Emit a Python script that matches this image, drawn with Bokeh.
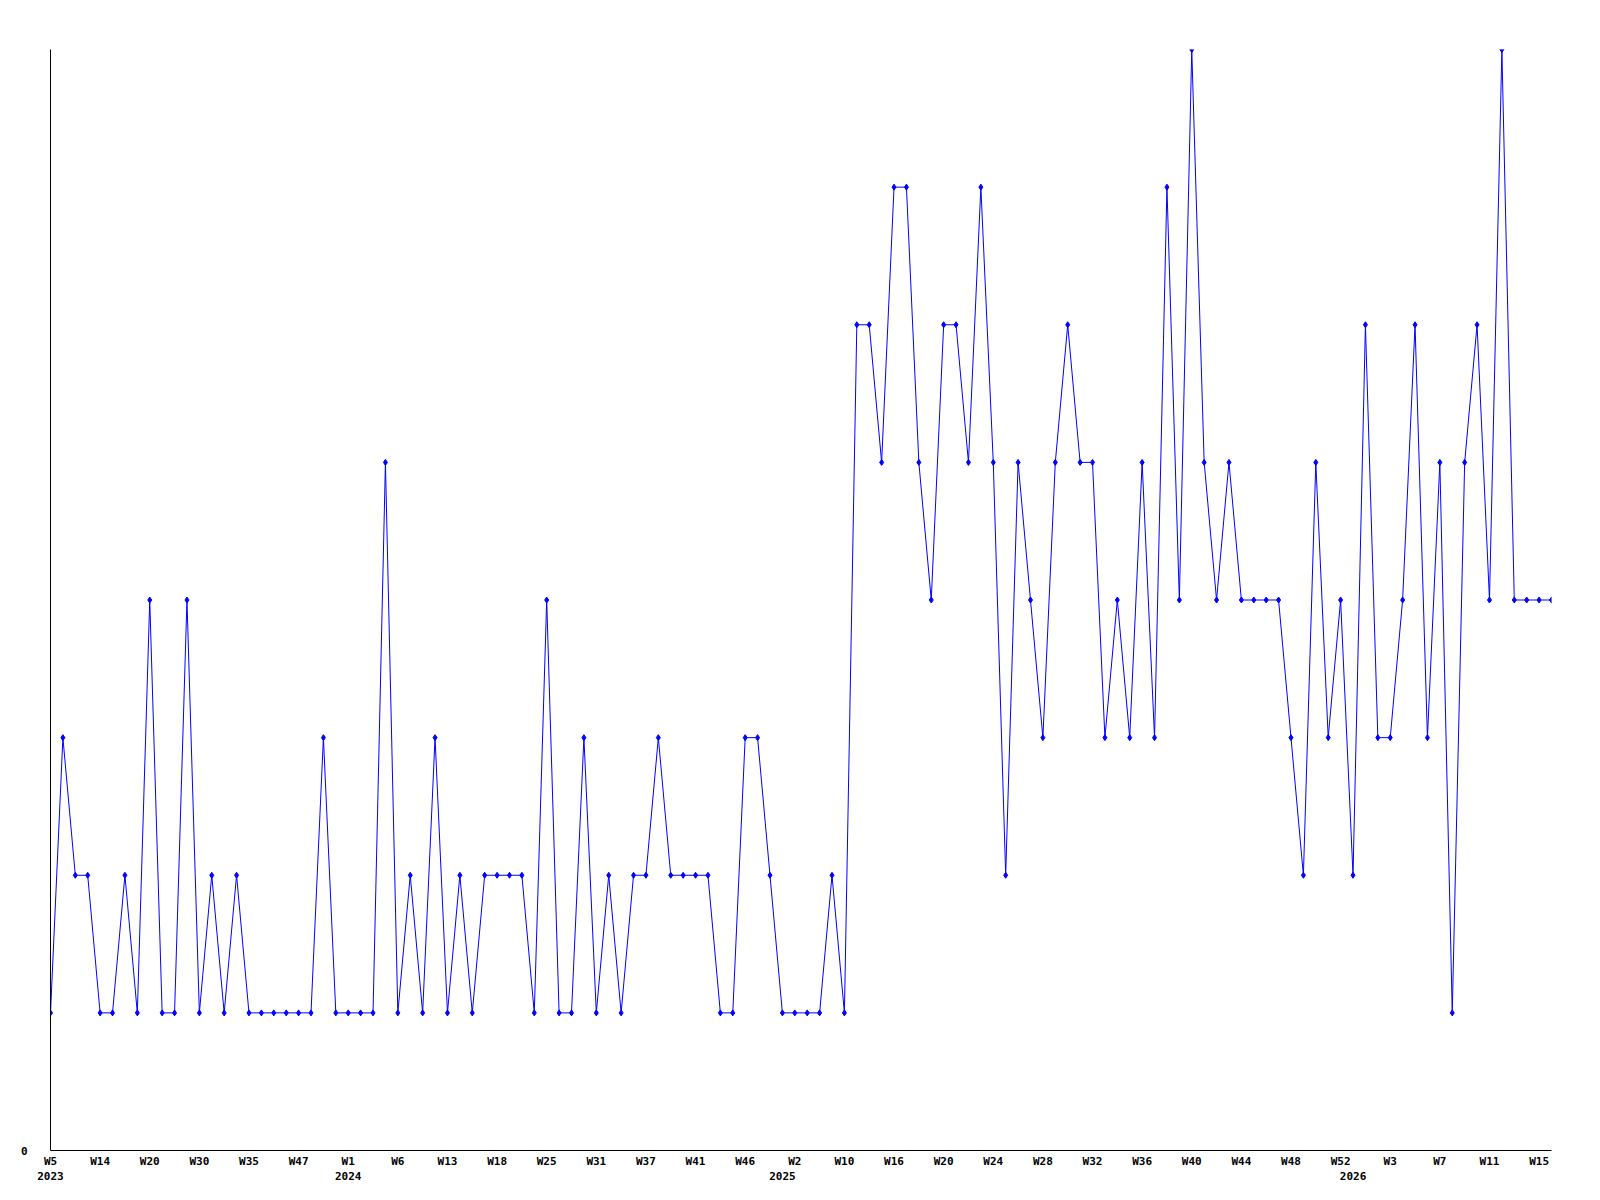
from bokeh.plotting import figure
from bokeh.models import Range1d, FixedTicker, LinearAxis
from bokeh.embed import file_html
from bokeh.resources import INLINE

# Observations in order (one per recorded week)
values = [1, 3, 2, 2, 1, 1, 2, 1, 4, 1, 1, 4, 1, 2, 1, 2, 1, 1, 1, 1,
          1, 1, 3, 1, 1, 1, 1, 5, 1, 2, 1, 3, 1, 2, 1, 2, 2, 2, 2, 1,
          4, 1, 1, 3, 1, 2, 1, 2, 2, 3, 2, 2, 2, 2, 1, 1, 3, 3, 2, 1,
          1, 1, 1, 2, 1, 6, 6, 5, 7, 7, 5, 4, 6, 6, 5, 7, 5, 2, 5, 4,
          3, 5, 6, 5, 5, 3, 4, 3, 5, 3, 7, 4, 8, 5, 4, 5, 4, 4, 4, 4,
          3, 2, 5, 3, 4, 2, 6, 3, 3, 4, 6, 3, 5, 1, 5, 6, 4, 8, 4, 4,
          4, 4]
x_index = list(range(len(values)))

# Week tick labels (every 4th observation)
week_tick_pos = list(range(0, 121, 4))
week_labels = ["W5", "W14", "W20", "W30", "W35", "W47", "W1", "W6", "W13", "W18",
               "W25", "W31", "W37", "W41", "W46", "W2", "W10", "W16", "W20", "W24",
               "W28", "W32", "W36", "W40", "W44", "W48", "W52", "W3", "W7", "W11", "W15"]

# Year labels at first observation of each year
year_tick_pos = [0, 24, 59, 105]
year_labels = ["2023", "2024", "2025", "2026"]

FONT = "DejaVu Sans Mono"
BLUE = "#0000ff"

p = figure(frame_width=1501, frame_height=1101,
           output_backend="svg", toolbar_location=None,
           x_range=Range1d(0, len(values) - 1), y_range=Range1d(0, 8),
           x_axis_type=None, y_axis_type=None,
           min_border_left=50, min_border_right=17,
           min_border_top=49, min_border_bottom=40)
p.outline_line_color = None
p.xgrid.visible = False
p.ygrid.visible = False
p.background_fill_color = "white"
p.border_fill_color = "white"

# y axis: only the zero label
yaxis = LinearAxis(ticker=FixedTicker(ticks=[0]))
yaxis.axis_line_color = "black"
yaxis.major_tick_line_color = None
yaxis.minor_tick_line_color = None
yaxis.major_tick_in = 0
yaxis.major_tick_out = 0
yaxis.major_label_standoff = 23
yaxis.major_label_text_font = FONT
yaxis.major_label_text_font_style = "bold"
yaxis.major_label_text_font_size = "11px"
yaxis.major_label_text_color = "black"
p.add_layout(yaxis, "left")

# x axis with week labels
xaxis = LinearAxis(ticker=FixedTicker(ticks=week_tick_pos))
xaxis.major_label_overrides = {pos: lab for pos, lab in zip(week_tick_pos, week_labels)}
xaxis.axis_line_color = "black"
xaxis.major_tick_line_color = None
xaxis.minor_tick_line_color = None
xaxis.major_tick_in = 0
xaxis.major_tick_out = 0
xaxis.major_label_standoff = 4
xaxis.major_label_text_font = FONT
xaxis.major_label_text_font_style = "bold"
xaxis.major_label_text_font_size = "11px"
xaxis.major_label_text_color = "black"
p.add_layout(xaxis, "below")

# second x axis with year labels
yearaxis = LinearAxis(ticker=FixedTicker(ticks=year_tick_pos))
yearaxis.major_label_overrides = {pos: lab for pos, lab in zip(year_tick_pos, year_labels)}
yearaxis.axis_line_color = None
yearaxis.major_tick_line_color = None
yearaxis.minor_tick_line_color = None
yearaxis.major_tick_in = 0
yearaxis.major_tick_out = 0
yearaxis.major_label_standoff = 1
yearaxis.major_label_text_font = FONT
yearaxis.major_label_text_font_style = "bold"
yearaxis.major_label_text_font_size = "11px"
yearaxis.major_label_text_color = "black"
p.add_layout(yearaxis, "below")

p.line(x_index, values, line_color=BLUE, line_width=1)
p.scatter(x_index, values, marker="diamond", size=6, fill_color=BLUE, line_color=BLUE)

open("out.html", "w").write(file_html(p, INLINE))
